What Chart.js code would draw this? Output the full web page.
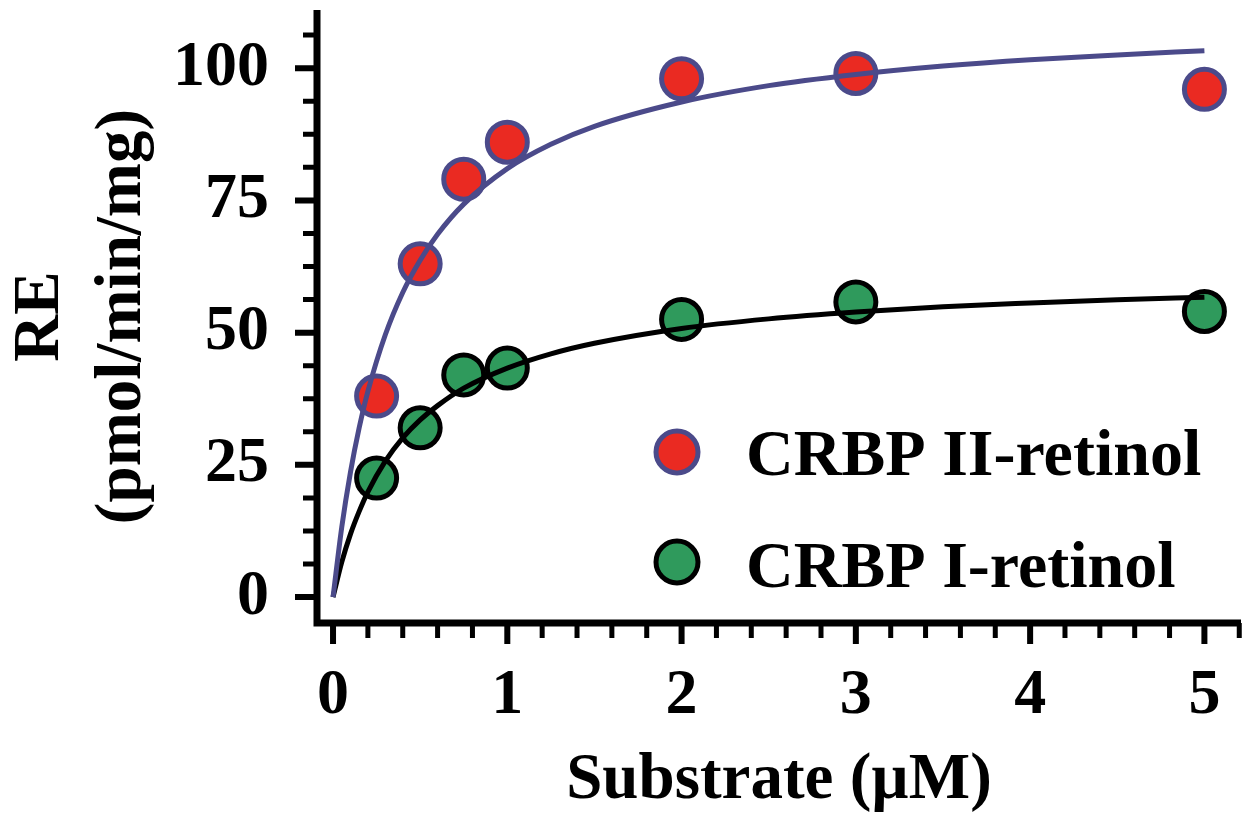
<!DOCTYPE html>
<html>
<head>
<meta charset="utf-8">
<script src="https://cdn.jsdelivr.net/npm/chart.js@4.4.1/dist/chart.umd.min.js"></script>
<style>
  body { margin: 0; background: #fff; }
  #wrap { width: 1250px; height: 821px; }
</style>
</head>
<body>
<div id="wrap"><canvas id="kinetics" width="1250" height="821"></canvas></div>
<script>
// measured points
const substrate = [0.25, 0.5, 0.75, 1, 2, 3, 5];
const crbp2 = [38, 63, 79, 86, 98, 99, 96];
const crbp1 = [22.5, 32, 42, 43.3, 52.5, 55.8, 54];
const seriesNames = ['CRBP II-retinol', 'CRBP I-retinol'];

// fitted curves
const curveX  = [0, 0.05, 0.1, 0.15, 0.2, 0.3, 0.4, 0.5, 0.6, 0.75, 1, 1.25, 1.5, 2, 2.5, 3, 3.5, 4, 4.5, 5];
const curveII = [0, 13.2, 23.6, 32.0, 38.9, 49.6, 57.6, 63.7, 68.6, 74.3, 81.0, 85.6, 89.0, 93.6, 96.7, 98.8, 100.4, 101.6, 102.5, 103.3];
const curveI  = [0, 6.6, 11.9, 16.2, 19.9, 25.7, 30.1, 33.5, 36.2, 39.5, 43.3, 46.0, 48.0, 50.8, 52.6, 53.9, 54.9, 55.6, 56.2, 56.7];

// axis ticks
const xTicks = [0, 1, 2, 3, 4, 5];
const xMinor = [0.2, 0.4, 0.6, 0.8, 1.2, 1.4, 1.6, 1.8, 2.2, 2.4, 2.6, 2.8, 3.2, 3.4, 3.6, 3.8, 4.2, 4.4, 4.6, 4.8, 5.2];
const yTicks = [0, 25, 50, 75, 100];
const yMinor = [6.25, 12.5, 18.75, 31.25, 37.5, 43.75, 56.25, 62.5, 68.75, 81.25, 87.5, 93.75, 106.25];

const RED = '#ea2a22', PURPLE = '#4b4a8a', GREEN = '#2f9a5c', BLACK = '#000';
const serif = "'Liberation Serif', 'Times New Roman', serif";

const pts = (xs, ys) => xs.map((x, i) => ({x: x, y: ys[i]}));

// no extra room for edge labels, the layout padding decides the plot box
const noPad = s => { s.paddingTop = s.paddingBottom = s.paddingLeft = s.paddingRight = 0; };

const axesPlugin = {
  id: 'axesPlugin',
  afterDraw(chart) {
    const c = chart.ctx, a = chart.chartArea;
    const xs = chart.scales.x, ys = chart.scales.y;
    c.save();
    c.strokeStyle = BLACK;
    c.lineCap = 'butt';
    // axis lines
    c.lineWidth = 7;
    c.beginPath();
    c.moveTo(a.left, a.top);
    c.lineTo(a.left, a.bottom + 3.5);
    c.moveTo(a.left - 3.5, a.bottom);
    c.lineTo(a.right, a.bottom);
    c.stroke();
    // ticks
    const tick = (list, len, w, horiz) => {
      c.lineWidth = w;
      c.beginPath();
      list.forEach(v => {
        if (horiz) {
          const px = xs.getPixelForValue(v);
          c.moveTo(px, a.bottom); c.lineTo(px, a.bottom + len);
        } else {
          const py = ys.getPixelForValue(v);
          c.moveTo(a.left, py); c.lineTo(a.left - len, py);
        }
      });
      c.stroke();
    };
    tick(xTicks, 21, 6, true);
    tick(xMinor, 15, 5, true);
    tick(yTicks, 22, 6, false);
    tick(yMinor, 14, 5, false);

    // legend
    const rows = [
      {name: seriesNames[0], fill: RED, edge: PURPLE, cy: 452, base: 475},
      {name: seriesNames[1], fill: GREEN, edge: BLACK, cy: 562, base: 587}
    ];
    c.font = 'bold 66px ' + serif;
    c.textAlign = 'left';
    c.textBaseline = 'alphabetic';
    rows.forEach(r => {
      c.beginPath();
      c.arc(677, r.cy, 21, 0, Math.PI * 2);
      c.fillStyle = r.fill;
      c.fill();
      c.lineWidth = 5;
      c.strokeStyle = r.edge;
      c.stroke();
      c.fillStyle = BLACK;
      c.fillText(r.name, 746, r.base);
    });
    c.restore();
  }
};

new Chart(document.getElementById('kinetics'), {
  type: 'scatter',
  data: {
    datasets: [
      {
        label: seriesNames[0] + ' fit',
        data: pts(curveX, curveII),
        showLine: true,
        borderColor: PURPLE,
        borderWidth: 5,
        pointRadius: 0,
        cubicInterpolationMode: 'monotone',
        order: 0
      },
      {
        label: seriesNames[1] + ' fit',
        data: pts(curveX, curveI),
        showLine: true,
        borderColor: BLACK,
        borderWidth: 5,
        pointRadius: 0,
        cubicInterpolationMode: 'monotone',
        order: 0
      },
      {
        label: seriesNames[0],
        data: pts(substrate, crbp2),
        backgroundColor: RED,
        borderColor: PURPLE,
        borderWidth: 5,
        pointRadius: 20,
        order: 1
      },
      {
        label: seriesNames[1],
        data: pts(substrate, crbp1),
        backgroundColor: GREEN,
        borderColor: BLACK,
        borderWidth: 5,
        pointRadius: 20,
        order: 1
      }
    ]
  },
  options: {
    responsive: false,
    animation: false,
    layout: { autoPadding: false, padding: { top: 10, right: 9, left: 0, bottom: 0 } },
    plugins: { legend: { display: false }, tooltip: { enabled: false } },
    scales: {
      x: {
        type: 'linear',
        min: -0.092,
        max: 5.21,
        afterBuildTicks: s => { s.ticks = xTicks.map(v => ({value: v})); },
        afterFit: s => { s.height = 198; noPad(s); },
        grid: { display: false },
        border: { display: false },
        ticks: { color: BLACK, padding: 27, font: { family: serif, size: 64, weight: 'bold' } },
        title: {
          display: true,
          text: 'Substrate (µM)',
          color: BLACK,
          padding: { top: 0, bottom: 1 },
          font: { family: serif, size: 65, weight: 'bold', lineHeight: 1.2 }
        }
      },
      y: {
        min: -4.9,
        max: 111,
        afterBuildTicks: s => { s.ticks = yTicks.map(v => ({value: v})); },
        afterFit: s => { s.width = 317; noPad(s); },
        grid: { display: false },
        border: { display: false },
        ticks: { color: BLACK, padding: 40, font: { family: serif, size: 64, weight: 'bold' } },
        title: {
          display: true,
          text: ['RE', '(pmol/min/mg)'],
          color: BLACK,
          padding: { top: 0, bottom: 0 },
          font: { family: serif, size: 65, weight: 'bold', lineHeight: 1.26 }
        }
      }
    }
  },
  plugins: [axesPlugin]
});
</script>
</body>
</html>
